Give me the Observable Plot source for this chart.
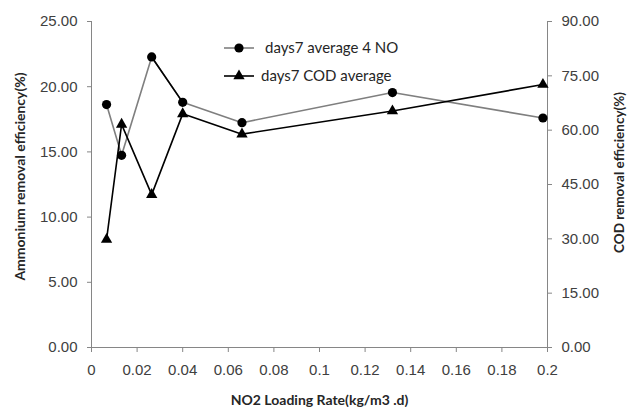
<!DOCTYPE html>
<html><head><meta charset="utf-8">
<script src="https://cdn.jsdelivr.net/npm/d3@7"></script>
<script src="https://cdn.jsdelivr.net/npm/@observablehq/plot@0.6"></script>
<style>
body{margin:0;background:#fff;}
#wrap{position:relative;width:628px;height:407px;overflow:hidden;}
.legtxt{position:absolute;font-family:Lato, "Open Sans", sans-serif;font-size:15px;line-height:18px;color:#262626;white-space:nowrap;}
#legsym{position:absolute;left:0;top:0;}
</style></head><body><div id="wrap"></div>
<script>
// Data
const loadingRate = [0.0066, 0.0132, 0.0264, 0.04, 0.066, 0.132, 0.198];
const ammonium = [18.63, 14.74, 22.28, 18.80, 17.24, 19.55, 17.60];
const cod = [29.8, 61.6, 42.2, 64.5, 58.9, 65.3, 72.6];
const xTicks = [0, 0.02, 0.04, 0.06, 0.08, 0.1, 0.12, 0.14, 0.16, 0.18, 0.2];
const leftTicks = [0, 5, 10, 15, 20, 25];
const rightTicks = [0, 15, 30, 45, 60, 75, 90];
const seriesNames = ["days7 average 4 NO", "days7 COD average"];
const xTitle = "NO2 Loading Rate(kg/m3 .d)";
const yLeftTitle = "Ammonium removal efficiency(%)";
const yRightTitle = "COD removal efficiency(%)";

const k = 25 / 90; // right-axis (0–90) mapped onto left scale (0–25)
const rows = loadingRate.map((x, i) => ({x, nh4: ammonium[i], cod: cod[i], codScaled: cod[i] * k, i}));

const axisGray = "#868686";
const tickText = "#404040";
const titleFont = "Lato, 'Open Sans', sans-serif";

const chart = Plot.plot({
  width: 628, height: 407,
  marginLeft: 91, marginRight: 81, marginTop: 21, marginBottom: 60,
  x: {domain: [0, 0.2]},
  y: {domain: [0, 25]},
  style: {fontFamily: "'Liberation Sans', Arial, sans-serif", fontSize: "15px", color: tickText, background: "#fff", overflow: "visible"},
  marks: [
    Plot.ruleY([0], {stroke: axisGray}),
    Plot.ruleX([0], {stroke: axisGray}),
    Plot.ruleX([0.2], {stroke: axisGray}),
    Plot.axisX(xTicks, {tickSize: 5, tickPadding: 12, stroke: axisGray, fill: tickText, label: null,
      tickFormat: d => String(+d.toFixed(2))}),
    Plot.axisY(leftTicks, {anchor: "left", tickSize: 4, tickPadding: 10, stroke: axisGray, fill: tickText, label: null,
      tickFormat: d => d.toFixed(2)}),
    Plot.axisY(rightTicks.map(v => v * k), {anchor: "right", tickSize: 4, tickPadding: 10, stroke: axisGray, fill: tickText, label: null,
      tickFormat: d => (d / k).toFixed(2)}),
    Plot.line(rows, {x: "x", y: "nh4", stroke: "#7f7f7f", strokeWidth: 1.6}),
    Plot.line(rows, {x: "x", y: "codScaled", stroke: "#000", strokeWidth: 1.6}),
    Plot.line(rows.filter(r => r.i === 2 || r.i === 3), {x: "x", y: "nh4", stroke: "#000", strokeWidth: 1.6}),
    Plot.dot(rows, {x: "x", y: "nh4", r: 4.6, fill: "#000", stroke: "none"}),
    Plot.dot(rows, {x: "x", y: "codScaled", symbol: "triangle", r: 4.2, fill: "#000", stroke: "none"}),
    Plot.text([xTitle], {frameAnchor: "bottom", text: d => d, dy: 53, textAnchor: "middle", lineAnchor: "middle",
      fontFamily: titleFont, fontWeight: "bold", fontSize: 14, fill: "#262626"}),
    Plot.text([yLeftTitle], {frameAnchor: "left", text: d => d, rotate: -90, dx: -71, dy: -8, textAnchor: "middle", lineAnchor: "middle",
      fontFamily: titleFont, fontWeight: "bold", fontSize: 14, fill: "#262626"}),
    Plot.text([yRightTitle], {frameAnchor: "right", text: d => d, rotate: -90, dx: 72.5, dy: -12, textAnchor: "middle", lineAnchor: "middle",
      fontFamily: titleFont, fontWeight: "bold", fontSize: 13.5, fill: "#262626"})
  ]
});

const wrap = document.getElementById("wrap");
wrap.appendChild(chart);

// Legend overlay
const ns = "http://www.w3.org/2000/svg";
const leg = document.createElementNS(ns, "svg");
leg.setAttribute("id", "legsym");
leg.setAttribute("width", 628); leg.setAttribute("height", 407);
const legRows = [
  {y: 48, stroke: "#7f7f7f", sym: d3.symbolCircle, size: Math.PI * 4.6 * 4.6, tx: 265},
  {y: 76, stroke: "#000", sym: d3.symbolTriangle, size: Math.PI * 4.2 * 4.2, tx: 261}
];
legRows.forEach((r, i) => {
  const ln = document.createElementNS(ns, "line");
  ln.setAttribute("x1", 224); ln.setAttribute("x2", 254);
  ln.setAttribute("y1", r.y); ln.setAttribute("y2", r.y);
  ln.setAttribute("stroke", r.stroke); ln.setAttribute("stroke-width", 1.6);
  leg.appendChild(ln);
  const p = document.createElementNS(ns, "path");
  p.setAttribute("d", d3.symbol(r.sym, r.size)());
  p.setAttribute("transform", `translate(239,${r.y})`);
  p.setAttribute("fill", "#000");
  leg.appendChild(p);
  const t = document.createElement("div");
  t.className = "legtxt";
  t.style.left = r.tx + "px";
  t.style.top = (r.y - 10) + "px";
  t.textContent = seriesNames[i];
  wrap.appendChild(t);
});
wrap.appendChild(leg);
</script>
</body></html>
